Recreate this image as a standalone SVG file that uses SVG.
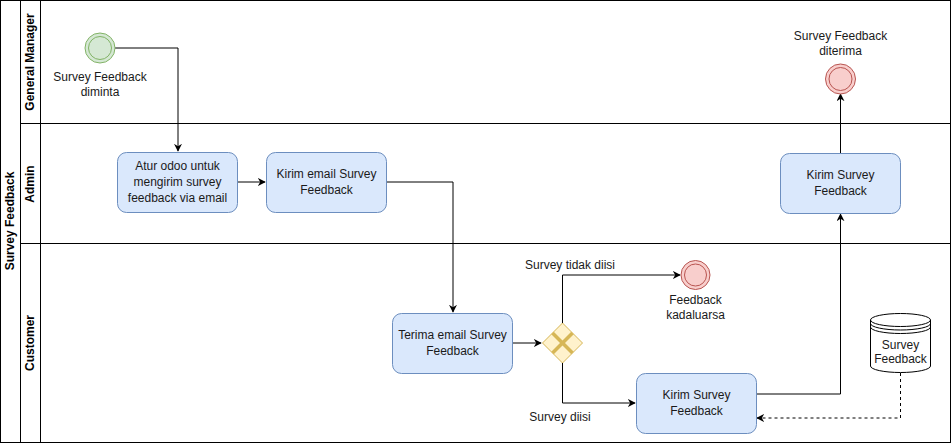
<svg xmlns="http://www.w3.org/2000/svg" width="952" height="445" viewBox="0 0 952 445">
<style>
text{font-family:"Liberation Sans",Arial,sans-serif;font-size:12px;fill:#1a1a1a;text-anchor:middle}
.hdr{font-weight:bold;font-size:12px;fill:#000}
.lane{fill:none;stroke:#000;stroke-width:1}
.task{fill:#dae8fc;stroke:#6c8ebf;stroke-width:1}
.start{fill:#d5e8d4;stroke:#82b366;stroke-width:1}
.end{fill:#f8cecc;stroke:#b85450;stroke-width:1}
.edge{fill:none;stroke:#000;stroke-width:1}
.dash{fill:none;stroke:#000;stroke-width:1;stroke-dasharray:3 3}
</style>
<defs>
<marker id="arr" viewBox="0 0 10 10" refX="9" refY="5" markerWidth="8" markerHeight="8" markerUnits="userSpaceOnUse" orient="auto">
<path d="M0,0 L10,5 L0,10 L3,5 Z" fill="#000"/>
</marker>
</defs>
<rect width="952" height="445" fill="#fff"/>
<g id="pool">
<rect class="lane" x="0.5" y="0.5" width="950" height="442"/>
<line class="lane" x1="20.5" y1="0.5" x2="20.5" y2="442.5"/>
<line class="lane" x1="40.5" y1="0.5" x2="40.5" y2="442.5"/>
<line class="lane" x1="20.5" y1="123.5" x2="950.5" y2="123.5"/>
<line class="lane" x1="20.5" y1="243.5" x2="950.5" y2="243.5"/>
<text class="hdr" transform="translate(14,221) rotate(-90)">Survey Feedback</text>
<text class="hdr" transform="translate(34,62) rotate(-90)">General Manager</text>
<text class="hdr" transform="translate(34,184) rotate(-90)">Admin</text>
<text class="hdr" transform="translate(34,343) rotate(-90)">Customer</text>
</g>
<g id="connectors">
<polyline class="edge" points="115,48 178,48 178,151" marker-end="url(#arr)"/>
<line class="edge" x1="237" y1="182" x2="265" y2="182" marker-end="url(#arr)"/>
<polyline class="edge" points="387,182 453,182 453,312" marker-end="url(#arr)"/>
<line class="edge" x1="513" y1="343" x2="541" y2="343" marker-end="url(#arr)"/>
<polyline class="edge" points="562.5,323 562.5,275 680,275" marker-end="url(#arr)"/>
<polyline class="edge" points="562.5,363 562.5,403 635,403" marker-end="url(#arr)"/>
<polyline class="edge" points="756,394 840.5,394 840.5,214" marker-end="url(#arr)"/>
<line class="edge" x1="840.5" y1="153" x2="840.5" y2="94" marker-end="url(#arr)"/>
<polyline class="dash" points="900.5,373 900.5,418 757,418" marker-end="url(#arr)"/>
<text x="570" y="269">Survey tidak diisi</text>
<text x="560" y="421">Survey diisi</text>
</g>
<g id="start">
<circle class="start" cx="100" cy="48" r="15"/>
<circle class="start" cx="100" cy="48" r="11.5"/>
<text x="100" y="81">Survey Feedback</text>
<text x="100" y="96">diminta</text>
</g>
<g id="task-atur">
<rect class="task" x="117.5" y="152.5" width="120" height="60" rx="9"/>
<text x="177.5" y="170">Atur odoo untuk</text>
<text x="177.5" y="186">mengirim survey</text>
<text x="177.5" y="202">feedback via email</text>
</g>
<g id="task-kirim-email">
<rect class="task" x="266.5" y="152.5" width="120" height="60" rx="9"/>
<text x="326.5" y="178">Kirim email Survey</text>
<text x="326.5" y="194">Feedback</text>
</g>
<g id="task-terima">
<rect class="task" x="392.5" y="313.5" width="120" height="60" rx="9"/>
<text x="452.5" y="339">Terima email Survey</text>
<text x="452.5" y="355">Feedback</text>
</g>
<g id="gateway">
<polygon points="562.5,323 582.5,343 562.5,363 542.5,343" fill="#fff2cc" stroke="#d6b656"/>
<line x1="552.5" y1="333" x2="572.5" y2="353" stroke="#d6b656" stroke-width="3.5"/>
<line x1="572.5" y1="333" x2="552.5" y2="353" stroke="#d6b656" stroke-width="3.5"/>
</g>
<g id="end-kadaluarsa">
<circle class="end" cx="695.5" cy="275" r="14.5"/>
<circle class="end" cx="695.5" cy="275" r="11"/>
<text x="695.5" y="304">Feedback</text>
<text x="695.5" y="319">kadaluarsa</text>
</g>
<g id="task-kirim-customer">
<rect class="task" x="636.5" y="373.5" width="120" height="60" rx="9"/>
<text x="696.5" y="399">Kirim Survey</text>
<text x="696.5" y="415">Feedback</text>
</g>
<g id="task-kirim-admin">
<rect class="task" x="780.5" y="153.5" width="120" height="60" rx="9"/>
<text x="840.5" y="179">Kirim Survey</text>
<text x="840.5" y="195">Feedback</text>
</g>
<g id="end-diterima">
<circle class="end" cx="840.5" cy="79" r="15"/>
<circle class="end" cx="840.5" cy="79" r="11.5"/>
<text x="840.5" y="40">Survey Feedback</text>
<text x="840.5" y="55">diterima</text>
</g>
<g id="datastore">
<path d="M870.5,320 A30,6.5 0 0 1 930.5,320 V366 A30,6.5 0 0 1 870.5,366 Z" fill="#fff" stroke="#000"/>
<path d="M870.5,320 A30,6.5 0 0 0 930.5,320 M870.5,323.5 A30,6.5 0 0 0 930.5,323.5 M870.5,327 A30,6.5 0 0 0 930.5,327" fill="none" stroke="#000"/>
<text x="900.5" y="349">Survey</text>
<text x="900.5" y="363">Feedback</text>
</g>
</svg>
